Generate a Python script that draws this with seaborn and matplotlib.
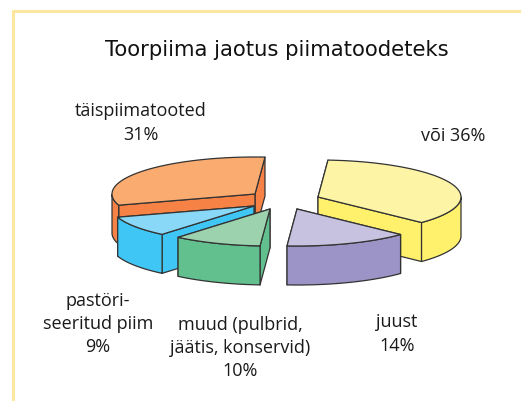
# -*- coding: utf-8 -*-
import numpy as np
import matplotlib
matplotlib.use("Agg")
import matplotlib.pyplot as plt
import seaborn as sns

# values
names = ['või', 'juust', 'muud', 'pastöri', 'täispiimatooted']
shares = [36, 14, 10, 9, 31]
label_texts = ['või 36%', 'juust\n14%', 'muud (pulbrid,\njäätis, konservid)\n10%',
               'pastöri-\nseeritud piim\n9%', 'täispiimatooted\n31%']
title_text = 'Toorpiima jaotus piimatoodeteks'

# look of the exploded pie
top_cols = ['#FEF4A6', '#C6C2E0', '#9CD3AE', '#8AD8F7', '#FAAB70']
side_cols = ['#FFF16C', '#9C94C6', '#61C08E', '#3FC6F4', '#F68345']
apex = [(318, 197), (297, 209), (270, 209), (254, 206), (255, 194)]
label_pos = [(453, 136), (397, 334), (240, 348), (98, 324), (141, 123)]
draw_order = [4, 0, 3, 1, 2]
a, b, depth = 143, 37, 39
start = 86
edge = '#333333'

sns.set_theme(style='white')
plt.rcParams['font.family'] = ['Open Sans', 'DejaVu Sans']

fig = plt.figure(figsize=(5.21, 4.01), dpi=100)
ax = fig.add_axes([0, 0, 1, 1])
ax.set_xlim(0, 521)
ax.set_ylim(401, 0)
ax.axis('off')

# pale frame, open on the right and bottom
ax.plot([12.5, 12.5, 521], [401, 10.5, 10.5], color='#FDE6A0', lw=2.2, solid_capstyle='butt')

angles = start - np.cumsum([0] + shares) * 3.6


def wall(xs, ys, col):
    xs, ys = np.asarray(xs), np.asarray(ys)
    ax.fill(np.r_[xs, xs[::-1]], np.r_[ys, ys[::-1] + depth], fc=col, ec=edge, lw=0.9, joinstyle='round')


for i in draw_order:
    cx, cy = apex[i]
    t = np.radians(np.linspace(angles[i], angles[i + 1], 120))
    px = cx + a * np.cos(t)
    py = cy - b * np.sin(t)
    # radial walls, back one first
    radial = sorted([(px[0], py[0]), (px[-1], py[-1])], key=lambda p: p[1])
    for ex, ey in radial:
        wall([cx, ex], [cy, ey], side_cols[i])
    # outer wall only where the rim faces the viewer
    front = np.sin(t) < 0
    if front.any():
        wall(px[front], py[front], side_cols[i])
    ax.fill(np.r_[cx, px], np.r_[cy, py], fc=top_cols[i], ec=edge, lw=0.9, joinstyle='round')

for txt, (lx, ly) in zip(label_texts, label_pos):
    ax.text(lx, ly, txt, ha='center', va='center', fontsize=13, color='#1a1a1a', linespacing=1.38)

ax.text(277, 50, title_text, ha='center', va='center', fontsize=15.2, color='#111111',
        family=['DejaVu Sans'])

fig.savefig('out.png', dpi=100)
